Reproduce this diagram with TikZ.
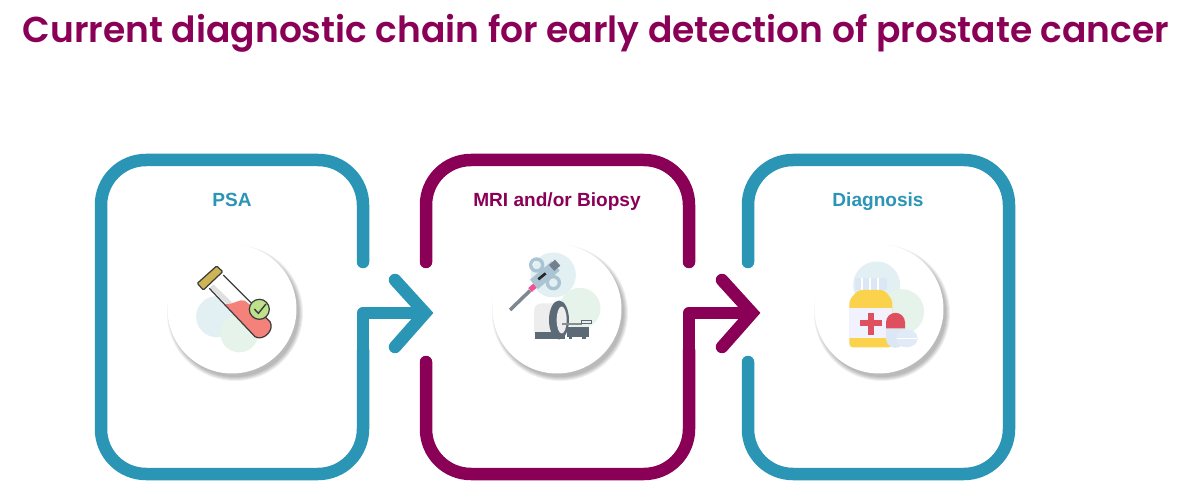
\documentclass[tikz,border=0pt]{standalone}
\usepackage{fontspec}
\setmainfont{Liberation Sans}
\newfontfamily\headfont[BoldFont={Poppins SemiBold}]{Poppins}
\definecolor{plum}{RGB}{139, 0, 87}
\definecolor{lagoon}{RGB}{42, 149, 181}
\definecolor{mist}{RGB}{226, 239, 243}
\definecolor{mint}{RGB}{230, 243, 235}
\definecolor{slate}{RGB}{92, 106, 120}
\definecolor{steel}{RGB}{170, 196, 211}
\definecolor{ink}{RGB}{60, 60, 60}
\definecolor{salmon}{RGB}{244, 129, 122}
\definecolor{olive}{RGB}{205, 180, 85}
\definecolor{leaf}{RGB}{190, 226, 140}
\definecolor{pale}{RGB}{220, 231, 245}
\definecolor{honey}{RGB}{251, 210, 76}
\definecolor{crimson}{RGB}{222, 80, 95}
\tikzset{
    chain/.style={line width=0.25cm, line cap=round, line join=round, rounded corners=0.9cm},
    stem/.style={line width=0.25cm, line cap=round, line join=round},
    tip/.style={line width=0.25cm, line cap=round, line join=miter},
    boxlabel/.style={font=\bfseries\fontsize{10.85pt}{13pt}\selectfont, anchor=base},
    badge/.style={circle, fill=white, minimum size=2.58cm, inner sep=0pt}
}
\begin{document}
\begin{tikzpicture}[x=0.02cm, y=-0.02cm]
    \useasboundingbox (0,0) rectangle (1200,503);
    \fill[white] (0,0) rectangle (1200,503);

    \node[text=plum, anchor=base, font=\headfont\bfseries\fontsize{20.5pt}{26pt}\selectfont] (title) at (596,43)
        {Current diagnostic chain for early detection of prostate cancer};

    % first box and arrow
    \draw[chain, lagoon] (363,262) -- (363,160) -- (101,160) -- (101,474) -- (363,474) -- (363,350);
    \draw[stem, lagoon]  (363,350) -- (363,313) -- (424,313);
    \draw[tip, lagoon]   (395,280) -- (425,313) -- (395,347);
    % second box and arrow
    \draw[chain, plum]   (426,262) -- (426,160) -- (689,160) -- (689,262);
    \draw[chain, plum]   (426,362) -- (426,474) -- (689,474) -- (689,350);
    \draw[stem, plum]    (689,350) -- (689,313) -- (750,313);
    \draw[tip, plum]     (722,280) -- (752,313) -- (722,347);
    % third box
    \draw[chain, lagoon] (748,262) -- (748,160) -- (1009,160) -- (1009,474) -- (748,474) -- (748,362);

    \node[boxlabel, text=lagoon] (psa) at (232,207) {PSA};
    \node[boxlabel, text=plum] (mri) at (557,207) {MRI and/or Biopsy};
    \node[boxlabel, text=lagoon] (diagnosis) at (878,207) {Diagnosis};

    % soft shadow under the round badges
    \foreach \bx in {232,557,879}
        \foreach \br in {1.36,1.34,1.32,1.30,1.28}
            \fill[black, opacity=0.06] (\bx+3,313) circle (\br cm);

    \node[badge] (tube) at (232,309) {};
    \node[badge] (scanner) at (557,309) {};
    \node[badge] (bottle) at (879,309) {};

    % test tube
    \begin{scope}[shift={(160,240)}, x=0.00667cm, y=-0.00667cm]
        \fill[mist] (170,230) circle (0.41cm);
        \fill[mint] (238,280) circle (0.38cm);
        \fill[white, opacity=0.75] (148,145) -- (190,105) -- (330,245) -- (285,290) -- cycle;
        \fill[black!12] (150,143) -- (160,133) -- (235,205) -- (222,215) -- cycle;
        \fill[salmon] (195,192) .. controls (225,195) and (235,175) .. (255,182) -- (330,245)
            .. controls (345,270) and (310,305) .. (285,290) -- cycle;
        \draw[ink, line width=0.7pt, line join=round] (148,145) -- (285,290)
            .. controls (310,305) and (345,270) .. (330,245) -- (190,105);
        \filldraw[draw=ink, fill=olive, line width=0.7pt, rounded corners=0.02cm]
            (112,130) -- (170,78) -- (188,95) -- (130,150) -- cycle;
        \filldraw[draw=ink, fill=leaf, line width=0.7pt] (298,208) circle (0.2cm);
        \draw[ink, line width=0.8pt] (283,207) -- (295,220) -- (318,192);
    \end{scope}

    % biopsy gun above the scanner
    \begin{scope}[shift={(485,240)}, x=0.00667cm, y=-0.00667cm]
        \fill[mist] (205,105) circle (0.45cm);
        \fill[mint] (285,205) circle (0.41cm);
        \fill[black!7, rounded corners=0.15cm] (147,297) -- (147,190) -- (225,190) -- (225,297) -- cycle;
        \draw[steel, line width=1.9pt] (155,75) circle (0.12cm);
        \draw[steel, line width=1.9pt] (205,128) circle (0.12cm);
        \draw[slate!80, line width=2pt] (75,210) -- (135,152);
        \draw[magenta!70!red!70, line width=3pt] (135,150) -- (150,137);
        \draw[steel, line width=7pt] (147,133) -- (212,78);
        \draw[slate!85, line width=4.5pt] (200,84) -- (218,68);
        \draw[black!85, line width=1.5pt] (160,118) -- (182,100);
        \fill[slate] (150,275) rectangle (240,297);
        \fill[slate] (222,240) ellipse (0.2cm and 0.39cm);
        \fill[black!7] (230,240) ellipse (0.1cm and 0.27cm);
        \fill[slate] (245,260) rectangle (312,292);
        \fill[slate] (252,292) rectangle (262,298);
        \fill[slate] (292,292) rectangle (302,298);
        \fill[black!45] (232,250) rectangle (290,255);
        \filldraw[draw=slate, fill=black!7, line width=0.4pt] (288,241) rectangle (318,251);
    \end{scope}

    % medicine bottle with capsule
    \begin{scope}[shift={(805,240)}, x=0.00667cm, y=-0.00667cm]
        \fill[mist] (215,135) circle (0.47cm);
        \fill[mint] (290,215) circle (0.45cm);
        \fill[pale] (150,115) rectangle (245,150);
        \foreach \ribx in {172,195,218}
            \draw[white, line width=1pt] (\ribx,115) -- (\ribx,150);
        \fill[honey, rounded corners=0.07cm] (133,322) -- (133,180) -- (160,150) -- (238,150) -- (262,180) -- (262,322) -- cycle;
        \fill[blue!5!white] (133,205) rectangle (262,295);
        \fill[crimson] (165,240) rectangle (232,258);
        \fill[crimson] (190,218) rectangle (208,284);
        \fill[pale] (243,265) -- (243,295) arc (180:0:28.5) -- (300,265) -- cycle;
        \fill[pale!85!white] (305,295) ellipse (0.22cm and 0.18cm);
        \draw[white, line width=0.8pt] (275,295) -- (337,295);
        \fill[crimson] (243,265) -- (243,247) arc (180:360:28.5) -- (300,265) -- cycle;
    \end{scope}
\end{tikzpicture}
\end{document}
